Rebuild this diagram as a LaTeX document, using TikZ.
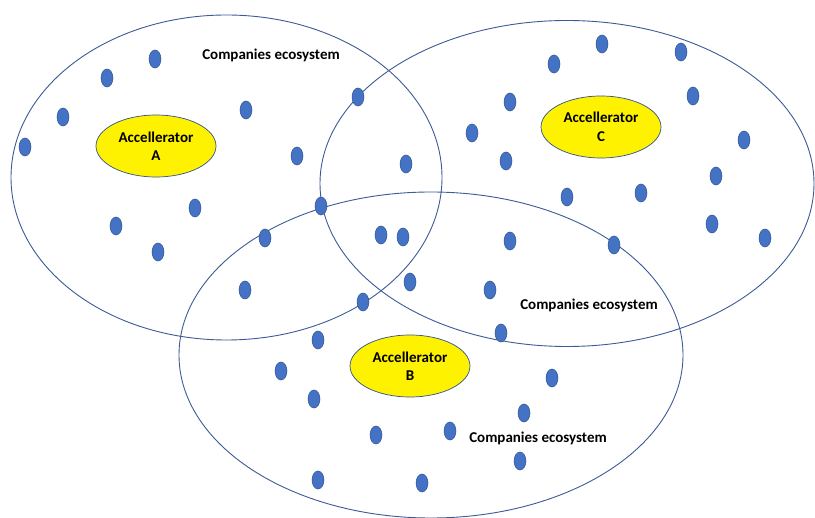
\documentclass[tikz,border=0pt]{standalone}
\usepackage{fontspec}
\setmainfont{Carlito}
\usetikzlibrary{shapes.geometric}
\definecolor{dotfill}{HTML}{4472C4}
\definecolor{dotedge}{HTML}{2F528F}
\definecolor{ringc}{HTML}{3C5A96}
\tikzset{
  ring/.style={draw=ringc, line width=0.9pt, ellipse, inner sep=0pt},
  dot/.style={ellipse, fill=dotfill, draw=dotedge, line width=0.5pt, minimum width=12pt, minimum height=18pt, inner sep=0pt},
  accel/.style={ellipse, fill=yellow, draw=dotedge, line width=0.7pt, minimum width=120pt, minimum height=62pt, inner sep=0pt, align=center, font=\bfseries\fontsize{15}{18.5}\selectfont},
  lab/.style={font=\bfseries\fontsize{15}{18}\selectfont, inner sep=0pt}
}
\begin{document}
\begin{tikzpicture}[x=1pt,y=-1pt]
\useasboundingbox (0,0) rectangle (815,518);
\node[ring, minimum width=431pt, minimum height=325pt] (ringA) at (226.5,177.5) {};
\node[ring, minimum width=494pt, minimum height=326pt] (ringC) at (567,183.5) {};
\node[ring, minimum width=504pt, minimum height=326pt] (ringB) at (431,355) {};
\node[accel] (accA) at (156,146) {Accellerator\\A};
\node[accel] (accC) at (601,127) {Accellerator\\C};
\node[accel] (accB) at (410,366) {Accellerator\\B};
\node[lab] (labA) at (271,55) {Companies ecosystem};
\node[lab] (labC) at (589,305) {Companies ecosystem};
\node[lab] (labB) at (538,438) {Companies ecosystem};
\foreach \x/\y [count=\i] in {155/59,107/78,63/117,25/147,246/110,297/156,195/208,116/226,158/252,358/97,406/164,321/206,265/238,381/235,403/237,245/290,363/302,410/282,490/290,501/333,318/340,281/371,314/399,376/435,450/431,524/413,552/378,520/461,422/483,318/480,510/241,614/245,567/197,641/193,712/224,765/238,716/176,744/140,693/96,681/52,602/44,554/64,510/102,472/133,506/161}
  \node[dot] (d\i) at (\x,\y) {};
\end{tikzpicture}
\end{document}
